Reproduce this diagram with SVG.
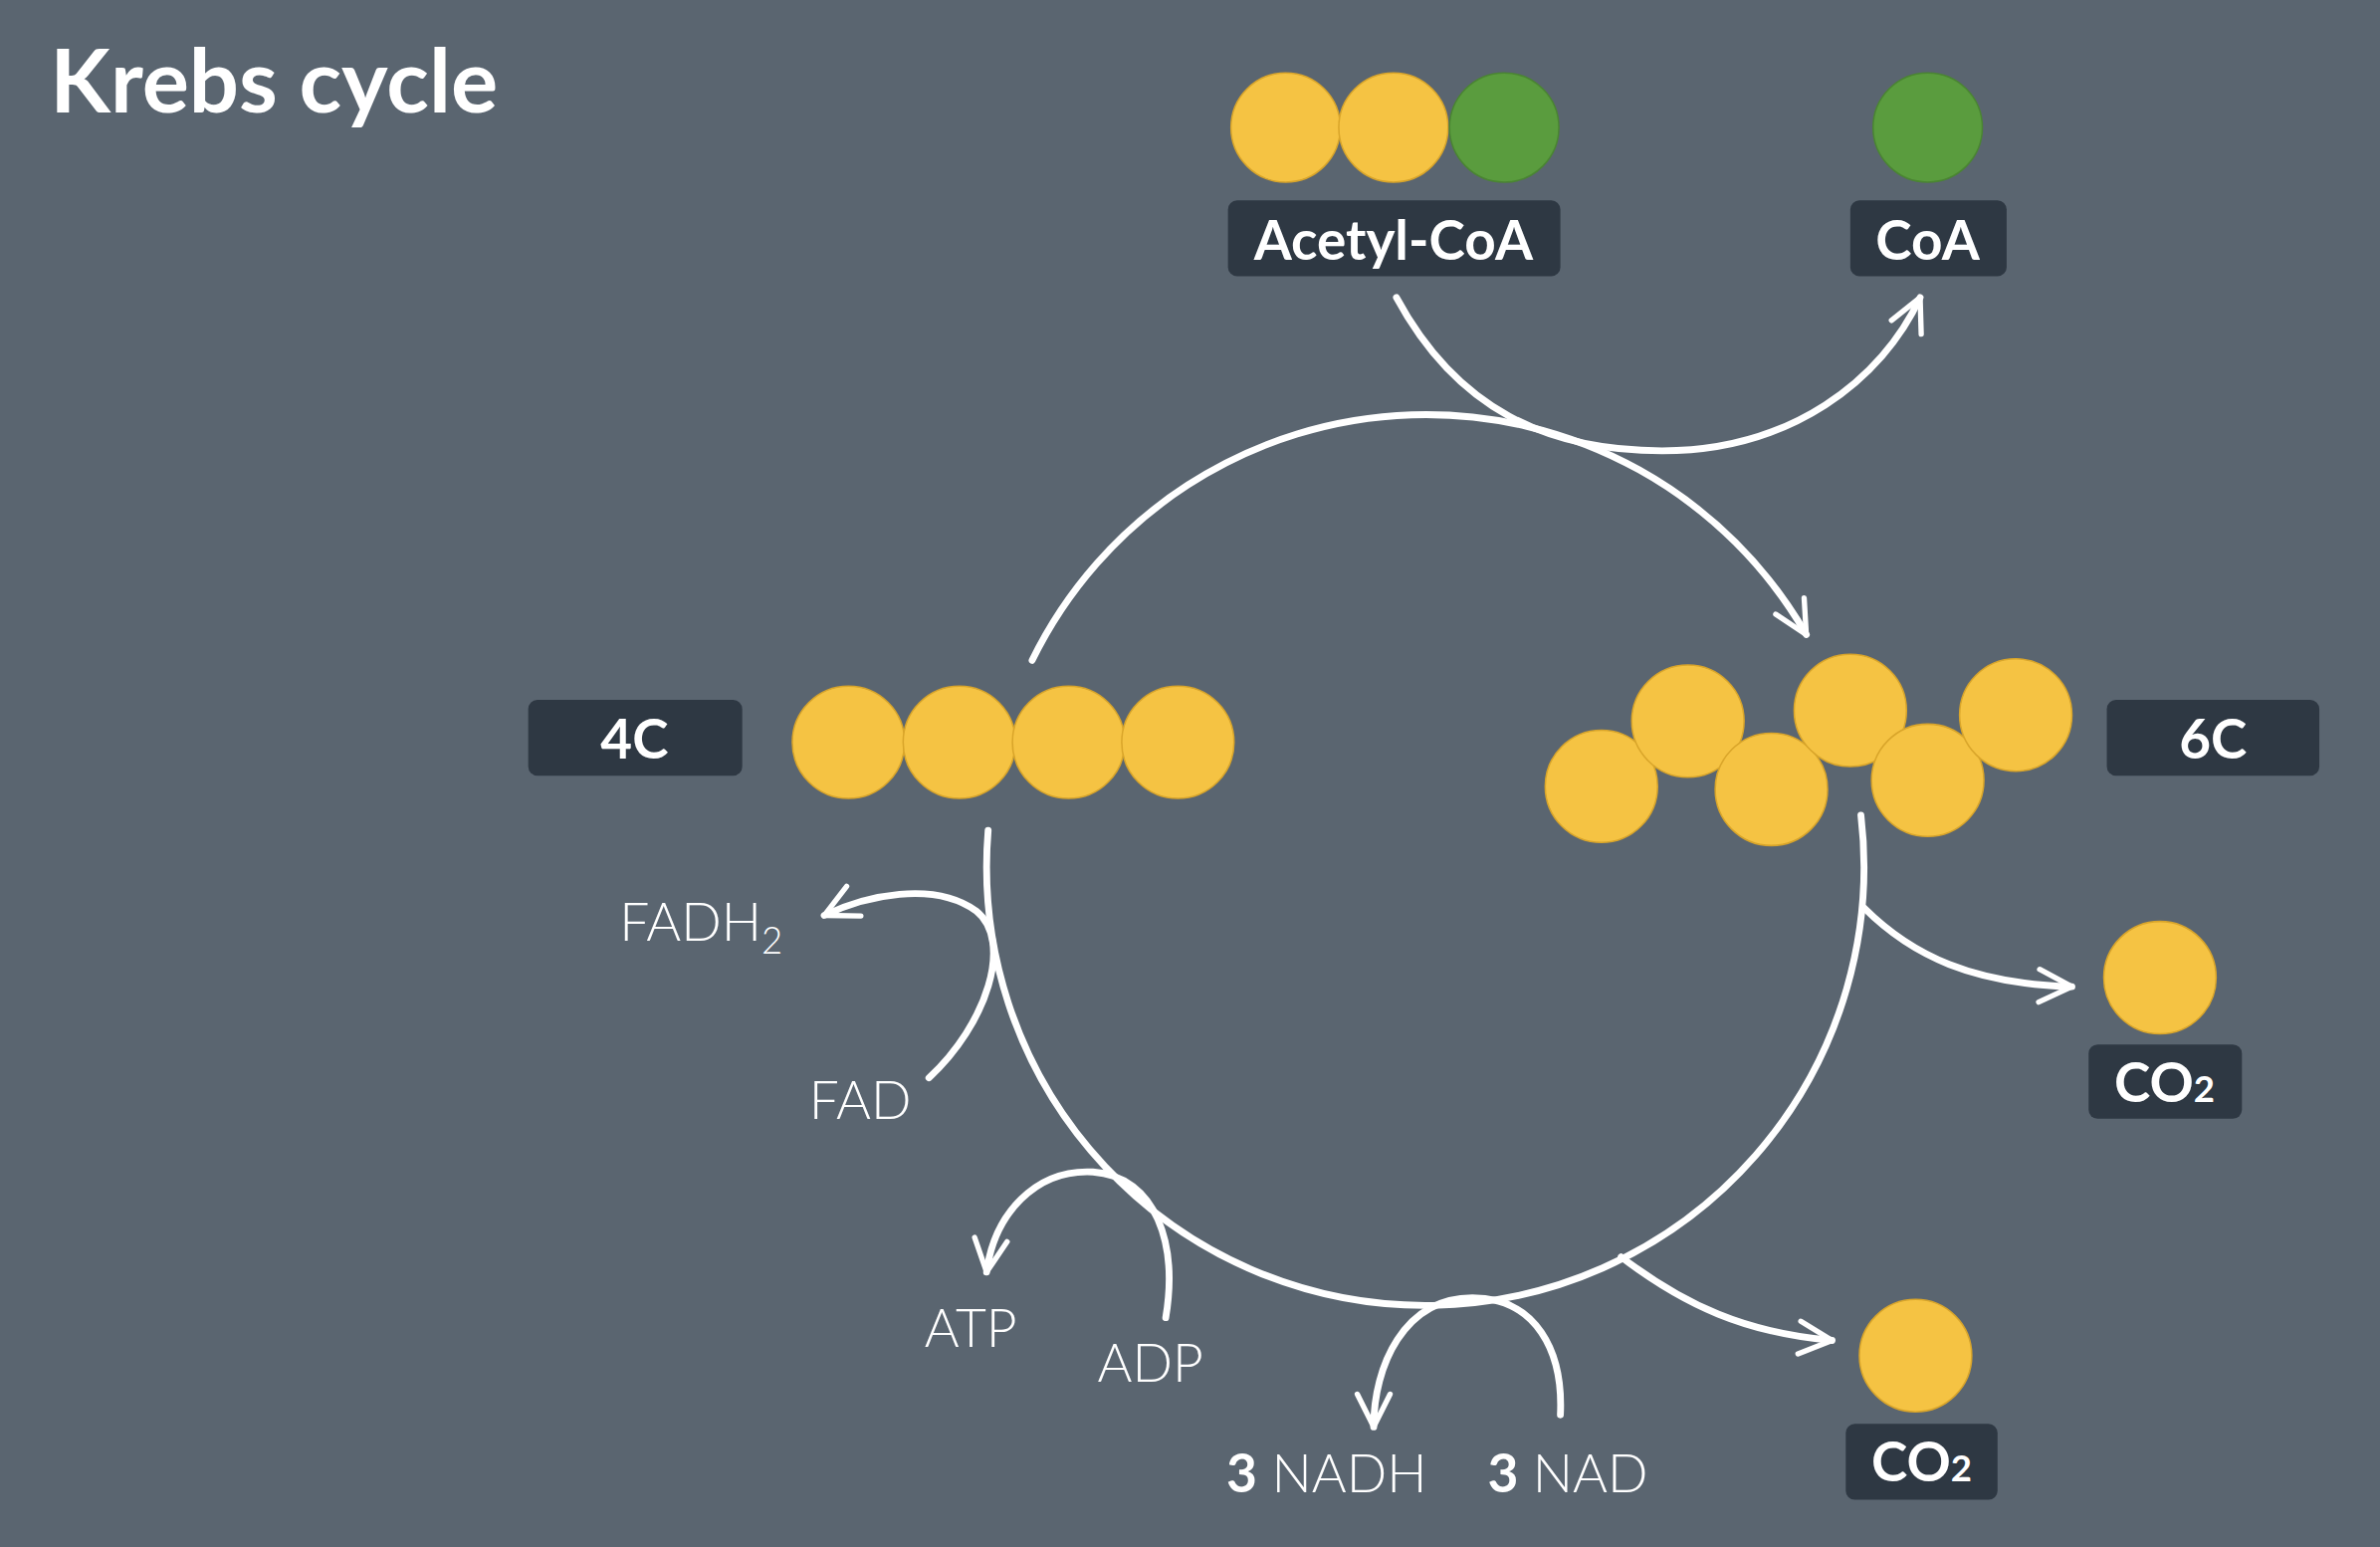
<svg xmlns="http://www.w3.org/2000/svg" width="2391" height="1554" viewBox="0 0 2391 1554">
<style>
.ln{fill:none;stroke:#fff;stroke-width:4.5;stroke-linecap:round}
.y{fill:#f5c343;stroke:#d9a52a;stroke-width:1}
.g{fill:#5a9c3e;stroke:#4a8532;stroke-width:1}
.box{fill:#2e3843}
.bt{font-family:Lato,"Liberation Sans",sans-serif;font-weight:700;font-size:36px;fill:#fff;text-anchor:middle}
.lt{font-family:Lato,"Liberation Sans",sans-serif;font-weight:300;font-size:35px;fill:#fff}
</style>
<defs>
<marker id="ah" viewBox="0 0 10 10" refX="9" refY="5" markerWidth="6" markerHeight="6" orient="auto">
<path d="M1,1 L9,5 L1,9" fill="none" stroke="#fff" stroke-width="1.3" stroke-linecap="round" stroke-linejoin="round"/>
</marker>
</defs>
<rect width="2391" height="1554" fill="#5a6570"/>
<g transform="scale(1.5249)">
<text x="33" y="74" font-family="Lato,'Liberation Sans',sans-serif" font-weight="700" font-size="58" fill="#fff">Krebs cycle</text>
<g id="connectors">
<path class="ln" d="M680,435 A289,289 0 0 1 1190,418" marker-end="url(#ah)"/>
<path class="ln" d="M1226,537 A289,289 0 1 1 651,547"/>
<path class="ln" d="M920,196 C960,270 1020,297 1095,297 C1180,297 1240,250 1265,196" marker-end="url(#ah)"/>
<path class="ln" d="M1228,598 C1260,630 1300,648 1365,650" marker-end="url(#ah)"/>
<path class="ln" d="M1068,828 C1110,860 1150,878 1207,883" marker-end="url(#ah)"/>
<path class="ln" d="M612,710 C650,675 668,620 643,600 C615,580 570,590 543,603" marker-end="url(#ah)"/>
<path class="ln" d="M768,868 C776,820 762,775 720,772 C682,770 655,800 650,838" marker-end="url(#ah)"/>
<path class="ln" d="M1028,932 C1030,890 1012,855 970,855 C925,855 905,900 905,940" marker-end="url(#ah)"/>
</g>
<g id="acetylcoa">
<circle class="y" cx="847" cy="84" r="36"/><circle class="y" cx="918" cy="84" r="36"/><circle class="g" cx="991" cy="84" r="36"/>
<rect class="box" x="809" y="132" width="219" height="50" rx="6"/>
<text class="bt" x="918" y="171">Acetyl-CoA</text>
</g>
<g id="coa">
<circle class="g" cx="1270" cy="84" r="36"/>
<rect class="box" x="1219" y="132" width="103" height="50" rx="6"/>
<text class="bt" x="1270" y="171">CoA</text>
</g>
<g id="c4">
<rect class="box" x="348" y="461" width="141" height="50" rx="6"/>
<text class="bt" x="418" y="500">4C</text>
<circle class="y" cx="559" cy="489" r="37"/><circle class="y" cx="632" cy="489" r="37"/><circle class="y" cx="704" cy="489" r="37"/><circle class="y" cx="776" cy="489" r="37"/>
</g>
<g id="c6">
<circle class="y" cx="1055" cy="518" r="37"/><circle class="y" cx="1112" cy="475" r="37"/><circle class="y" cx="1167" cy="520" r="37"/><circle class="y" cx="1219" cy="468" r="37"/><circle class="y" cx="1270" cy="514" r="37"/><circle class="y" cx="1328" cy="471" r="37"/>
<rect class="box" x="1388" y="461" width="140" height="50" rx="6"/>
<text class="bt" x="1458" y="500">6C</text>
</g>
<g id="co2a">
<circle class="y" cx="1423" cy="644" r="37"/>
<rect class="box" x="1376" y="688" width="101" height="49" rx="6"/>
<text class="bt" x="1426" y="726">CO<tspan font-size="24">2</tspan></text>
</g>
<g id="co2b">
<circle class="y" cx="1262" cy="893" r="37"/>
<rect class="box" x="1216" y="938" width="100" height="50" rx="6"/>
<text class="bt" x="1266" y="976">CO<tspan font-size="24">2</tspan></text>
</g>
<g id="labels">
<text class="lt" x="408" y="620">FADH<tspan font-size="24" dy="8">2</tspan></text>
<text class="lt" x="533" y="737">FAD</text>
<text class="lt" x="609" y="887">ATP</text>
<text class="lt" x="723" y="910">ADP</text>
<text class="lt" x="808" y="983"><tspan font-weight="700">3</tspan> NADH</text>
<text class="lt" x="980" y="983"><tspan font-weight="700">3</tspan> NAD</text>
</g>
</g>
</svg>
